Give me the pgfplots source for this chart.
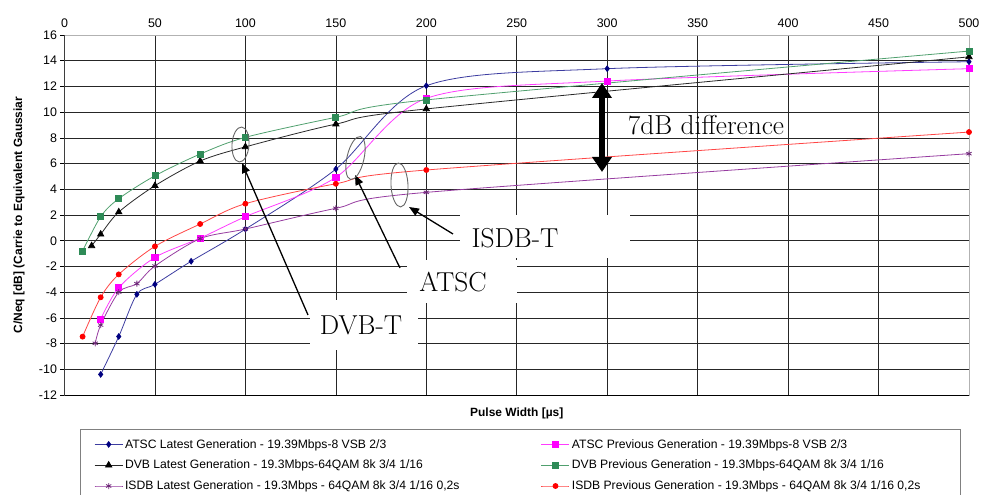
\documentclass[border=0pt]{standalone}
\usepackage{pgfplots}
\pgfplotsset{compat=1.18}
\usepackage{fontspec}
\newfontfamily\arial{Liberation Sans}
\usetikzlibrary{arrows.meta}

\definecolor{atscL}{RGB}{0,0,128}
\definecolor{atscLl}{RGB}{60,60,160}
\definecolor{atscP}{RGB}{255,0,255}
\definecolor{atscPl}{RGB}{255,60,255}
\definecolor{dvbP}{RGB}{46,139,87}
\definecolor{dvbPl}{RGB}{80,160,110}
\definecolor{dvbLl}{RGB}{40,40,40}
\definecolor{isdbL}{RGB}{110,40,120}
\definecolor{isdbLl}{RGB}{150,60,160}
\definecolor{isdbP}{RGB}{255,0,0}
\definecolor{isdbPl}{RGB}{255,70,70}

\begin{document}
\begin{tikzpicture}
\begin{axis}[
  at={(0,0)}, anchor=south west,
  scale only axis, width=904.5bp, height=360bp,
  xmin=0, xmax=500, ymin=-12, ymax=16,
  xtick={0,50,...,500}, ytick={-12,-10,...,16},
  xticklabel pos=top,
  ytick pos=left,
  grid=major, major grid style={black!85, line width=0.65bp},
  axis line style={black!30, line width=0.8bp},
  x tick style={draw=none},
  y tick style={black, line width=0.6bp},
  tick align=outside, major tick length=4bp,
  ticklabel style={font=\arial\fontsize{12.5}{14}\selectfont},
  /pgf/number format/assume math mode=true,
  ylabel={C/Neq [dB] (Carrie to Equivalent Gaussiar},
  ylabel style={font=\arial\bfseries\fontsize{12}{14}\selectfont, at={(axis description cs:-0.0503,0.5)}, anchor=center},
  xlabel={Pulse Width [µs]},
  xlabel style={font=\arial\bfseries\fontsize{12}{14}\selectfont, at={(axis description cs:0.5,-0.05)}, anchor=center},
  legend columns=2,
  legend cell align=left,
  legend style={at={(axis description cs:0.01714,-0.0944)}, anchor=north west, draw=black!50, line width=0.6bp,
     font=\arial\fontsize{12.2}{14}\selectfont, row sep=6.5bp, inner xsep=14bp, inner ysep=8bp},
  legend image code/.code={\draw[mark repeat=2,mark phase=2] plot coordinates {(0bp,0bp) (14bp,0bp) (28bp,0bp)};},
]
\addplot[color=atscLl, line width=0.8bp, smooth, mark=diamond*, mark size=2.8bp, mark options={fill=atscL, draw=atscL, solid}]
 coordinates {(20,-10.4) (30,-7.45) (40,-4.17) (50,-3.39) (70,-1.6) (100,0.9) (150,5.57) (200,12.05) (300,13.38) (500,13.92)};
\addlegendentry{\makebox[414bp][l]{ATSC Latest Generation - 19.39Mbps-8 VSB 2/3}}
\addplot[color=atscPl, line width=0.8bp, smooth, mark=square*, mark size=3.1bp, mark options={fill=atscP, draw=atscP, solid}]
 coordinates {(20,-6.1) (30,-3.65) (50,-1.3) (75,0.2) (100,1.87) (150,4.93) (200,11.07) (300,12.42) (500,13.38)};
\addlegendentry{\makebox[372bp][l]{ATSC Previous Generation - 19.39Mbps-8 VSB 2/3}}
\addplot[color=dvbLl, line width=0.8bp, smooth, mark=triangle*, mark size=3.6bp, mark options={fill=black, draw=black, solid}]
 coordinates {(15,-0.4) (20,0.5) (30,2.23) (50,4.28) (75,6.2) (100,7.3) (150,9.07) (200,10.25) (500,14.3)};
\addlegendentry{\makebox[414bp][l]{DVB Latest Generation - 19.3Mbps-64QAM 8k 3/4 1/16}}
\addplot[color=dvbPl, line width=0.8bp, smooth, mark=square*, mark size=3bp, mark options={fill=dvbP, draw=dvbP, solid}]
 coordinates {(10,-0.8) (20,1.87) (30,3.27) (50,5.05) (75,6.74) (100,8.04) (150,9.6) (200,10.95) (500,14.75)};
\addlegendentry{\makebox[372bp][l]{DVB Previous Generation - 19.3Mbps-64QAM 8k 3/4 1/16}}
\addplot[color=isdbLl, line width=0.8bp, smooth, mark=asterisk, mark size=3bp, mark options={draw=isdbL, solid, line width=0.8bp}]
 coordinates {(17,-7.98) (20,-6.56) (30,-4.0) (40,-3.34) (50,-1.97) (75,0.16) (100,0.91) (150,2.52) (200,3.76) (500,6.77)};
\addlegendentry{\makebox[414bp][l]{ISDB Latest Generation - 19.3Mbps - 64QAM 8k 3/4 1/16 0,2s}}
\addplot[color=isdbPl, line width=0.8bp, smooth, mark=*, mark size=2.5bp, mark options={fill=isdbP, draw=isdbP, solid}]
 coordinates {(10,-7.46) (20,-4.4) (30,-2.62) (50,-0.44) (75,1.3) (100,2.88) (150,4.43) (200,5.5) (500,8.45)};
\addlegendentry{\makebox[372bp][l]{ISDB Previous Generation - 19.3Mbps - 64QAM 8k 3/4 1/16 0,2s}}
\draw[black, line width=0.8bp] (rel axis cs:0,0) -- (rel axis cs:0,1);
\draw[black, line width=0.8bp] (rel axis cs:0,0) -- (rel axis cs:1,0);
\end{axis}
\begin{scope}[x=1bp, y=-1bp, shift={(-64.5bp,395bp)}]
\fill[white] (460,215) rectangle (630,258);
\fill[white] (407,260) rectangle (517,303);
\fill[white] (310,300) rectangle (418,350);
\node[font=\fontsize{27.5}{30}\selectfont] at (515,238) {ISDB-T};
\node[font=\fontsize{27.5}{30}\selectfont] at (453,282) {ATSC};
\node[font=\fontsize{27.5}{30}\selectfont] at (361,325) {DVB-T};
\node[font=\fontsize{27.5}{30}\selectfont] at (706,125) {7dB difference};
\draw[line width=1.3bp, -{Triangle[length=10bp,width=8bp]}] (308,315) -- (242,163);
\draw[line width=1.3bp, -{Triangle[length=10bp,width=8bp]}] (400,268) -- (355,175);
\draw[line width=1.3bp, -{Triangle[length=10bp,width=8bp]}] (453,234) -- (409,207);
\draw[black!60, line width=0.9bp, rotate around={-4:(240.5,144.5)}] (240.5,144.5) ellipse [x radius=8.5, y radius=17.5];
\draw[black!60, line width=0.9bp, rotate around={-13:(355.5,158)}] (355.5,158) ellipse [x radius=8.5, y radius=22];
\draw[black!60, line width=0.9bp, rotate around={3:(399.5,185)}] (399.5,185) ellipse [x radius=8.5, y radius=22];
\draw[line width=6.5bp, {Triangle[length=15bp,width=19bp]}-{Triangle[length=15bp,width=19bp]}] (602,83) -- (602,172);
\end{scope}
\pgfresetboundingbox
\path[use as bounding box] (-64.5bp,-100bp) rectangle (916.5bp,395bp);
\end{tikzpicture}
\end{document}
